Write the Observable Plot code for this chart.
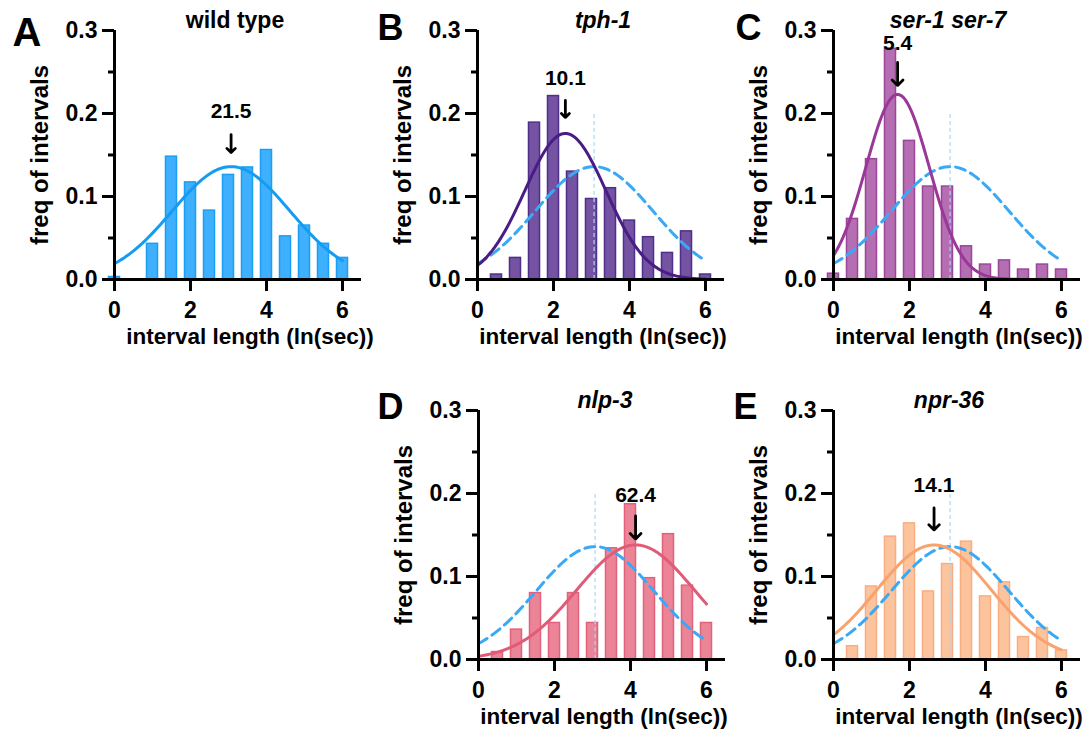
<!DOCTYPE html>
<html><head><meta charset="utf-8">
<script src="https://cdn.jsdelivr.net/npm/d3@7"></script>
<script src="https://cdn.jsdelivr.net/npm/@observablehq/plot@0.6"></script>
<style>
html,body{margin:0;padding:0;background:#fff;overflow:hidden}
#root{position:relative;width:1089px;height:734px;overflow:hidden}
#root svg{position:absolute;overflow:visible;background:transparent}
</style></head><body><div id="root"></div>
<script>
// ---- data ----
const binCenters = [0, 0.5, 1, 1.5, 2, 2.5, 3, 3.5, 4, 4.5, 5, 5.5, 6];
const wildType  = [0.003, 0, 0.043, 0.148, 0.117, 0.083, 0.126, 0.135, 0.156, 0.052, 0.065, 0.043, 0.026];
const tph1      = [0, 0.006, 0.026, 0.189, 0.221, 0.130, 0.097, 0.110, 0.071, 0.051, 0.032, 0.058, 0.006];
const ser1ser7  = [0.007, 0.073, 0.145, 0.278, 0.167, 0.112, 0.112, 0.040, 0.018, 0.023, 0.012, 0.018, 0.012];
const nlp3      = [0, 0.009, 0.036, 0.080, 0.044, 0.080, 0.044, 0.134, 0.187, 0.098, 0.151, 0.089, 0.044];
const npr36     = [0, 0.016, 0.088, 0.148, 0.164, 0.082, 0.115, 0.142, 0.076, 0.093, 0.027, 0.038, 0.011];
const genotypes = ["wild type", "tph-1", "ser-1 ser-7", "nlp-3", "npr-36"];
const panelLetters = ["A", "B", "C", "D", "E"];
const meanSeconds = [21.5, 10.1, 5.4, 62.4, 14.1];      // fitted mean interval (sec)
const fitSD   = [1.55, 1.07, 0.835, 1.55, 1.51];        // fitted SD (ln sec)
const fitPeak = [0.136, 0.176, 0.223, 0.138, 0.138];    // fitted peak height
const xTicks = [0, 2, 4, 6];
const yTicks = [0, 0.1, 0.2, 0.3];
const yMinorTicks = [0.05, 0.15, 0.25];
const xLabel = "interval length (ln(sec))";
const yLabel = "freq of intervals";
const series = [wildType, tph1, ser1ser7, nlp3, npr36];

// ---- styles / layout ----
const colors = [
  {fill: "#3fb0fd", stroke: "#1c9ff2", line: "#139cf2"},
  {fill: "#7453a3", stroke: "#4f2f89", line: "#4a1c85"},
  {fill: "#b46eb1", stroke: "#9c469a", line: "#9a389a"},
  {fill: "#ec8497", stroke: "#e2627b", line: "#e05b77"},
  {fill: "#fcc49d", stroke: "#f9ad81", line: "#f9a26d"}
];
const wtDashColor = "#3aa9f5";
const wtRefColor = "#a9d7f7";
const layout = [
  {left: 4,     top: 0,   titleDx: -3, letterDx: -102, letterDy: 15, letterSize: 40, xLabelDx: 12, tipGap: 14, arrowLen: 18, labelGap: 49},
  {left: 366.7, top: 0,   titleDx: 2,  letterDx: -100, letterDy: 9,  letterSize: 36, xLabelDx: 2,  tipGap: 16, arrowLen: 17, labelGap: 48},
  {left: 723.3, top: 0,   titleDx: -9, letterDx: -98,  letterDy: 9,  letterSize: 36, xLabelDx: 2,  tipGap: 9,  arrowLen: 23, labelGap: 44},
  {left: 367.7, top: 380, titleDx: 3,  letterDx: -101, letterDy: 8,  letterSize: 36, xLabelDx: 2,  tipGap: 6,  arrowLen: 23, labelGap: 43},
  {left: 722.7, top: 380, titleDx: -8, letterDx: -100, letterDy: 8,  letterSize: 36, xLabelDx: 2,  tipGap: 15, arrowLen: 22, labelGap: 53}
];
const ML = 110, MT = 30, MR = 8, MB = 80, innerW = 247, innerH = 249;
const pxPerY = innerH / 0.3;
const FONT = "'Liberation Sans', Arial, Helvetica, sans-serif";

function gaussian(m, sd, peak) {
  const pts = [];
  for (let i = 0; i <= 120; i++) {
    const x = i * 0.05;
    pts.push({x, y: peak * Math.exp(-((x - m) ** 2) / (2 * sd * sd))});
  }
  return pts;
}
const wtMean = Math.log(meanSeconds[0]);
const wtCurve = gaussian(wtMean, fitSD[0], fitPeak[0]);

const root = document.getElementById("root");
genotypes.forEach((name, k) => {
  const L = layout[k], C = colors[k];
  const m = Math.log(meanSeconds[k]);
  const bars = binCenters.map((c, i) => ({c, v: series[k][i]})).filter(d => d.v > 0);
  const curve = k === 0 ? wtCurve : gaussian(m, fitSD[k], fitPeak[k]);
  const marks = [
    Plot.rectY(bars, {x1: d => d.c - 0.145, x2: d => d.c + 0.145, y1: 0, y2: "v",
      fill: C.fill, stroke: C.stroke, strokeWidth: 1.5})
  ];
  if (k > 0) {
    marks.push(Plot.ruleX([wtMean], {y1: 0, y2: 0.2, stroke: wtRefColor, strokeWidth: 1.2, strokeDasharray: "4,3"}));
    marks.push(Plot.line(wtCurve, {x: "x", y: "y", stroke: wtDashColor, strokeWidth: 3, strokeDasharray: "10,6"}));
  }
  marks.push(Plot.line(curve, {x: "x", y: "y", stroke: C.line, strokeWidth: 3}));
  marks.push(
    Plot.ruleX([0], {stroke: "black", strokeWidth: 3}),
    Plot.ruleY([0], {stroke: "black", strokeWidth: 3}),
    Plot.axisY({ticks: yTicks, tickSize: 12, tickPadding: 5, strokeWidth: 3, label: null,
      tickFormat: d3.format(".1f"), fontSize: 23, fontWeight: "bold", fontFamily: FONT}),
    Plot.axisY({ticks: yMinorTicks, tickSize: 6, strokeWidth: 3, label: null, tickFormat: () => ""}),
    Plot.axisX({ticks: xTicks, tickSize: 12, tickPadding: 10, strokeWidth: 3, label: null,
      tickFormat: d3.format("d"), fontSize: 23, fontWeight: "bold", fontFamily: FONT}),
    Plot.arrow([{x: m, p: fitPeak[k]}], {
      x1: "x", x2: "x",
      y1: d => d.p + (L.tipGap + L.arrowLen) / pxPerY,
      y2: d => d.p + L.tipGap / pxPerY,
      stroke: "black", strokeWidth: 2.8, headLength: 10, headAngle: 90}),
    Plot.text([{x: m, p: fitPeak[k], t: String(meanSeconds[k])}], {
      x: "x", y: "p", text: "t", dy: -L.labelGap, lineAnchor: "bottom",
      fontSize: 21, fontWeight: "bold", fontFamily: FONT, fill: "black"}),
    Plot.text([name], {frameAnchor: "top", dx: L.titleDx, dy: -3, lineAnchor: "bottom", textAnchor: "middle",
      fontSize: 23, fontWeight: "bold", fontStyle: k === 0 ? "normal" : "italic", fontFamily: FONT, fill: "black"}),
    Plot.text([panelLetters[k]], {frameAnchor: "top-left", dx: L.letterDx, dy: L.letterDy, textAnchor: "start",
      lineAnchor: "bottom", fontSize: L.letterSize, fontWeight: "bold", fontFamily: FONT, fill: "black"}),
    Plot.text([yLabel], {frameAnchor: "left", rotate: -90, dx: -67, lineAnchor: "bottom", textAnchor: "middle",
      fontSize: 24, fontWeight: "bold", fontFamily: FONT, fill: "black"}),
    Plot.text([xLabel], {frameAnchor: "bottom", dx: L.xLabelDx, dy: 64, lineAnchor: "bottom", textAnchor: "middle",
      fontSize: 22.5, fontWeight: "bold", fontFamily: FONT, fill: "black"})
  );
  const svg = Plot.plot({
    width: ML + innerW + MR, height: MT + innerH + MB,
    marginLeft: ML, marginRight: MR, marginTop: MT, marginBottom: MB,
    x: {domain: [0, 6.5]},
    y: {domain: [0, 0.3]},
    style: {background: "transparent", overflow: "visible", fontFamily: FONT, color: "black"},
    marks
  });
  svg.style.left = L.left + "px";
  svg.style.top = L.top + "px";
  svg.style.maxWidth = "none";
  root.appendChild(svg);
});
</script></body></html>
